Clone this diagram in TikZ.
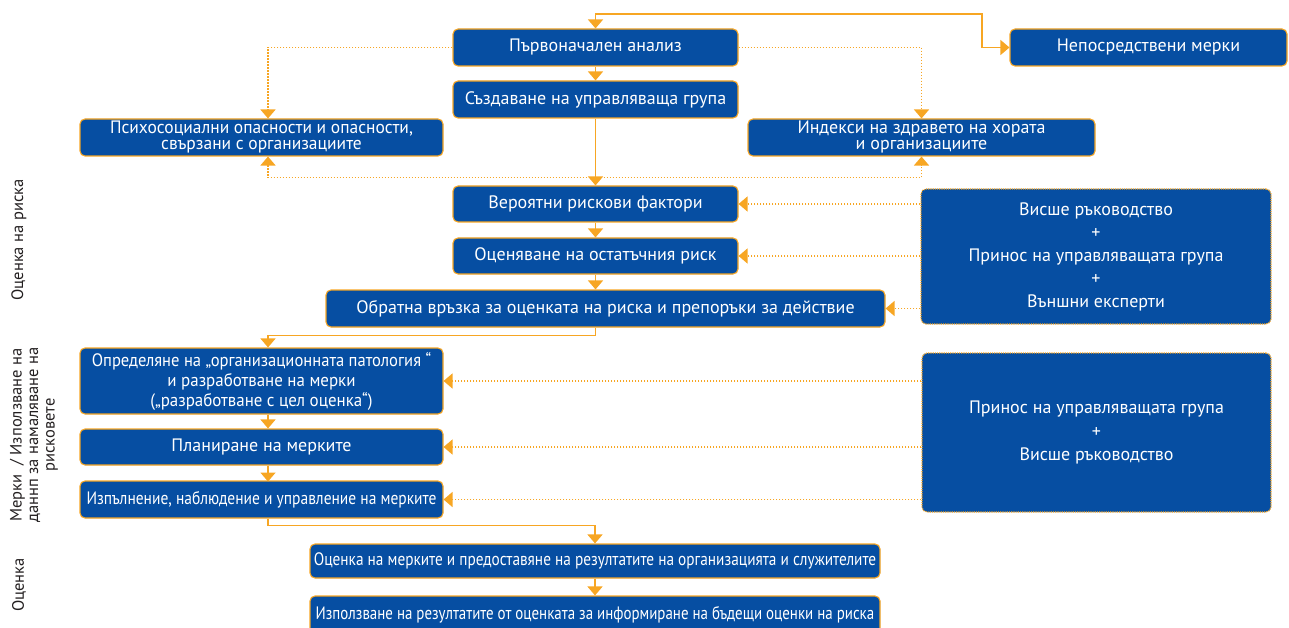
\documentclass[tikz,border=0pt]{standalone}
\usepackage{fontspec}
\setmainfont{PT Sans}
\usepackage{graphicx}
\usetikzlibrary{arrows.meta,calc}
\definecolor{boxblue}{RGB}{6,78,162}
\definecolor{lineorange}{RGB}{247,166,35}
\definecolor{labelgray}{RGB}{35,31,32}
\newcommand{\sqz}[2]{\scalebox{#1}[1]{#2}}
\tikzset{
  box/.style={rectangle, rounded corners=5pt, fill=boxblue, draw=lineorange, line width=1.1pt,
    text=white, align=center, inner sep=0pt, font=\fontsize{18}{17}\selectfont},
  dotbox/.style={box, dash pattern=on 1.2pt off 1pt},
  arr/.style={draw=lineorange, line width=1.4pt, -{Triangle[width=15pt,length=9pt]}},
  darr/.style={arr, {Triangle[width=15pt,length=9pt]}-{Triangle[width=15pt,length=9pt]}},
  dotarr/.style={arr, line width=1.6pt, dash pattern=on 1.6pt off 1.4pt},
  ddotarr/.style={darr, line width=1.6pt, dash pattern=on 1.6pt off 1.4pt},
  side/.style={rotate=90, text=labelgray, align=center, font=\fontsize{16.5}{16}\selectfont}
}
\begin{document}
\begin{tikzpicture}[x=1pt,y=-1pt]
\useasboundingbox (0,0) rectangle (1289,628);
% nodes
\node[box, minimum width=285, minimum height=37] (pa) at (595.5,47.5) {Първоначален анализ};
\node[box, minimum width=277, minimum height=37] (nm) at (1148.5,47.5) {Непосредствени мерки};
\node[box, minimum width=285, minimum height=37] (sg) at (595.5,99.5) {Създаване на управляваща група};
\node[box, minimum width=363, minimum height=37, font=\fontsize{18}{16}\selectfont] (ps) at (261.5,137.5) {\sqz{0.97}{Психосоциални опасности и опасности,}\\\sqz{0.97}{свързани с организациите}};
\node[box, minimum width=347, minimum height=37, font=\fontsize{18}{16}\selectfont] (ix) at (921.5,137.5) {Индекси на здравето на хората\\и организациите};
\node[box, minimum width=285, minimum height=36] (vr) at (595.5,204) {Вероятни рискови фактори};
\node[box, minimum width=285, minimum height=36] (oo) at (595.5,256) {Оценяване на остатъчния риск};
\node[box, minimum width=559, minimum height=37] (ob) at (605.5,308.5) {Обратна връзка за оценката на риска и препоръки за действие};
\node[dotbox, minimum width=350, minimum height=135, font=\fontsize{18}{23}\selectfont] (rb1) at (1096,256.5)
  {Висше ръководство\\+\\Принос на управляващата група\\+\\Външни експерти};
\node[box, minimum width=363, minimum height=66, font=\fontsize{18}{20}\selectfont] (op) at (261.5,381)
  {\sqz{0.92}{Определяне на „организационната патология “}\\\sqz{0.94}{и разработване на мерки}\\\sqz{0.94}{(„разработване с цел оценка“)}};
\node[box, minimum width=363, minimum height=36] (pl) at (261.5,447) {Планиране на мерките};
\node[box, minimum width=363, minimum height=37] (iz) at (261.5,499.5) {\sqz{0.86}{Изпълнение, наблюдение и управление на мерките}};
\node[dotbox, minimum width=349, minimum height=159, font=\fontsize{18}{23.5}\selectfont] (rb2) at (1096.5,432.5)
  {Принос на управляващата група\\+\\Висше ръководство};
\node[box, minimum width=570, minimum height=34] (om) at (595,561) {\sqz{0.85}{Оценка на мерките и предоставяне на резултатите на организацията и служителите}};
\node[box, minimum width=570, minimum height=37] (iu) at (595,614.5) {\sqz{0.83}{Използване на резултатите от оценката за информиране на бъдещи оценки на риска}};
% side labels
\node[side] (l1) at (19,240) {Оценка на риска};
\node[side, font=\fontsize{16.5}{16.5}\selectfont] (l2) at (34,435) {Мерки~~/ Използване на\\даннп за намаляване на\\рисковете};
\node[side] (l3) at (19,585) {Оценка};
% connectors
\draw[darr] (pa.north) |- (982,14) |- (nm.west);
\draw[arr] (pa.south) -- (sg.north);
\draw[dotarr] (pa.west) -| ($(ps.north)+(6.5,0)$);
\draw[dotarr] (pa.east) -| (ix.north);
\draw[ddotarr] ($(ps.south)+(6.5,0)$) -- ++(0,21) -| (ix.south);
\draw[arr] (sg.south) -- (vr.north);
\draw[arr] (vr.south) -- (oo.north);
\draw[arr] (oo.south) -- (oo.south |- ob.north);
\draw[arr] (oo.south |- ob.south) -- ++(0,8) -| ($(op.north)+(6.5,0)$);
\draw[arr] ($(op.south)+(6.5,0)$) -- ($(pl.north)+(6.5,0)$);
\draw[arr] ($(pl.south)+(6.5,0)$) -- ($(iz.south)+(6.5,-37)$);
\draw[arr] ($(iz.south)+(6.5,0)$) -- ++(0,7) -| (om.north);
\draw[arr] (om.south) -- (iu.north);
\draw[dotarr] (rb1.west |- vr.east) -- (vr.east);
\draw[dotarr] (rb1.west |- oo.east) -- (oo.east);
\draw[dotarr] (rb1.west |- ob.east) -- (ob.east);
\draw[dotarr] (rb2.west |- op.east) -- (op.east);
\draw[dotarr] (rb2.west |- pl.east) -- (pl.east);
\draw[dotarr] (rb2.west |- iz.east) -- (iz.east);
\end{tikzpicture}
\end{document}
